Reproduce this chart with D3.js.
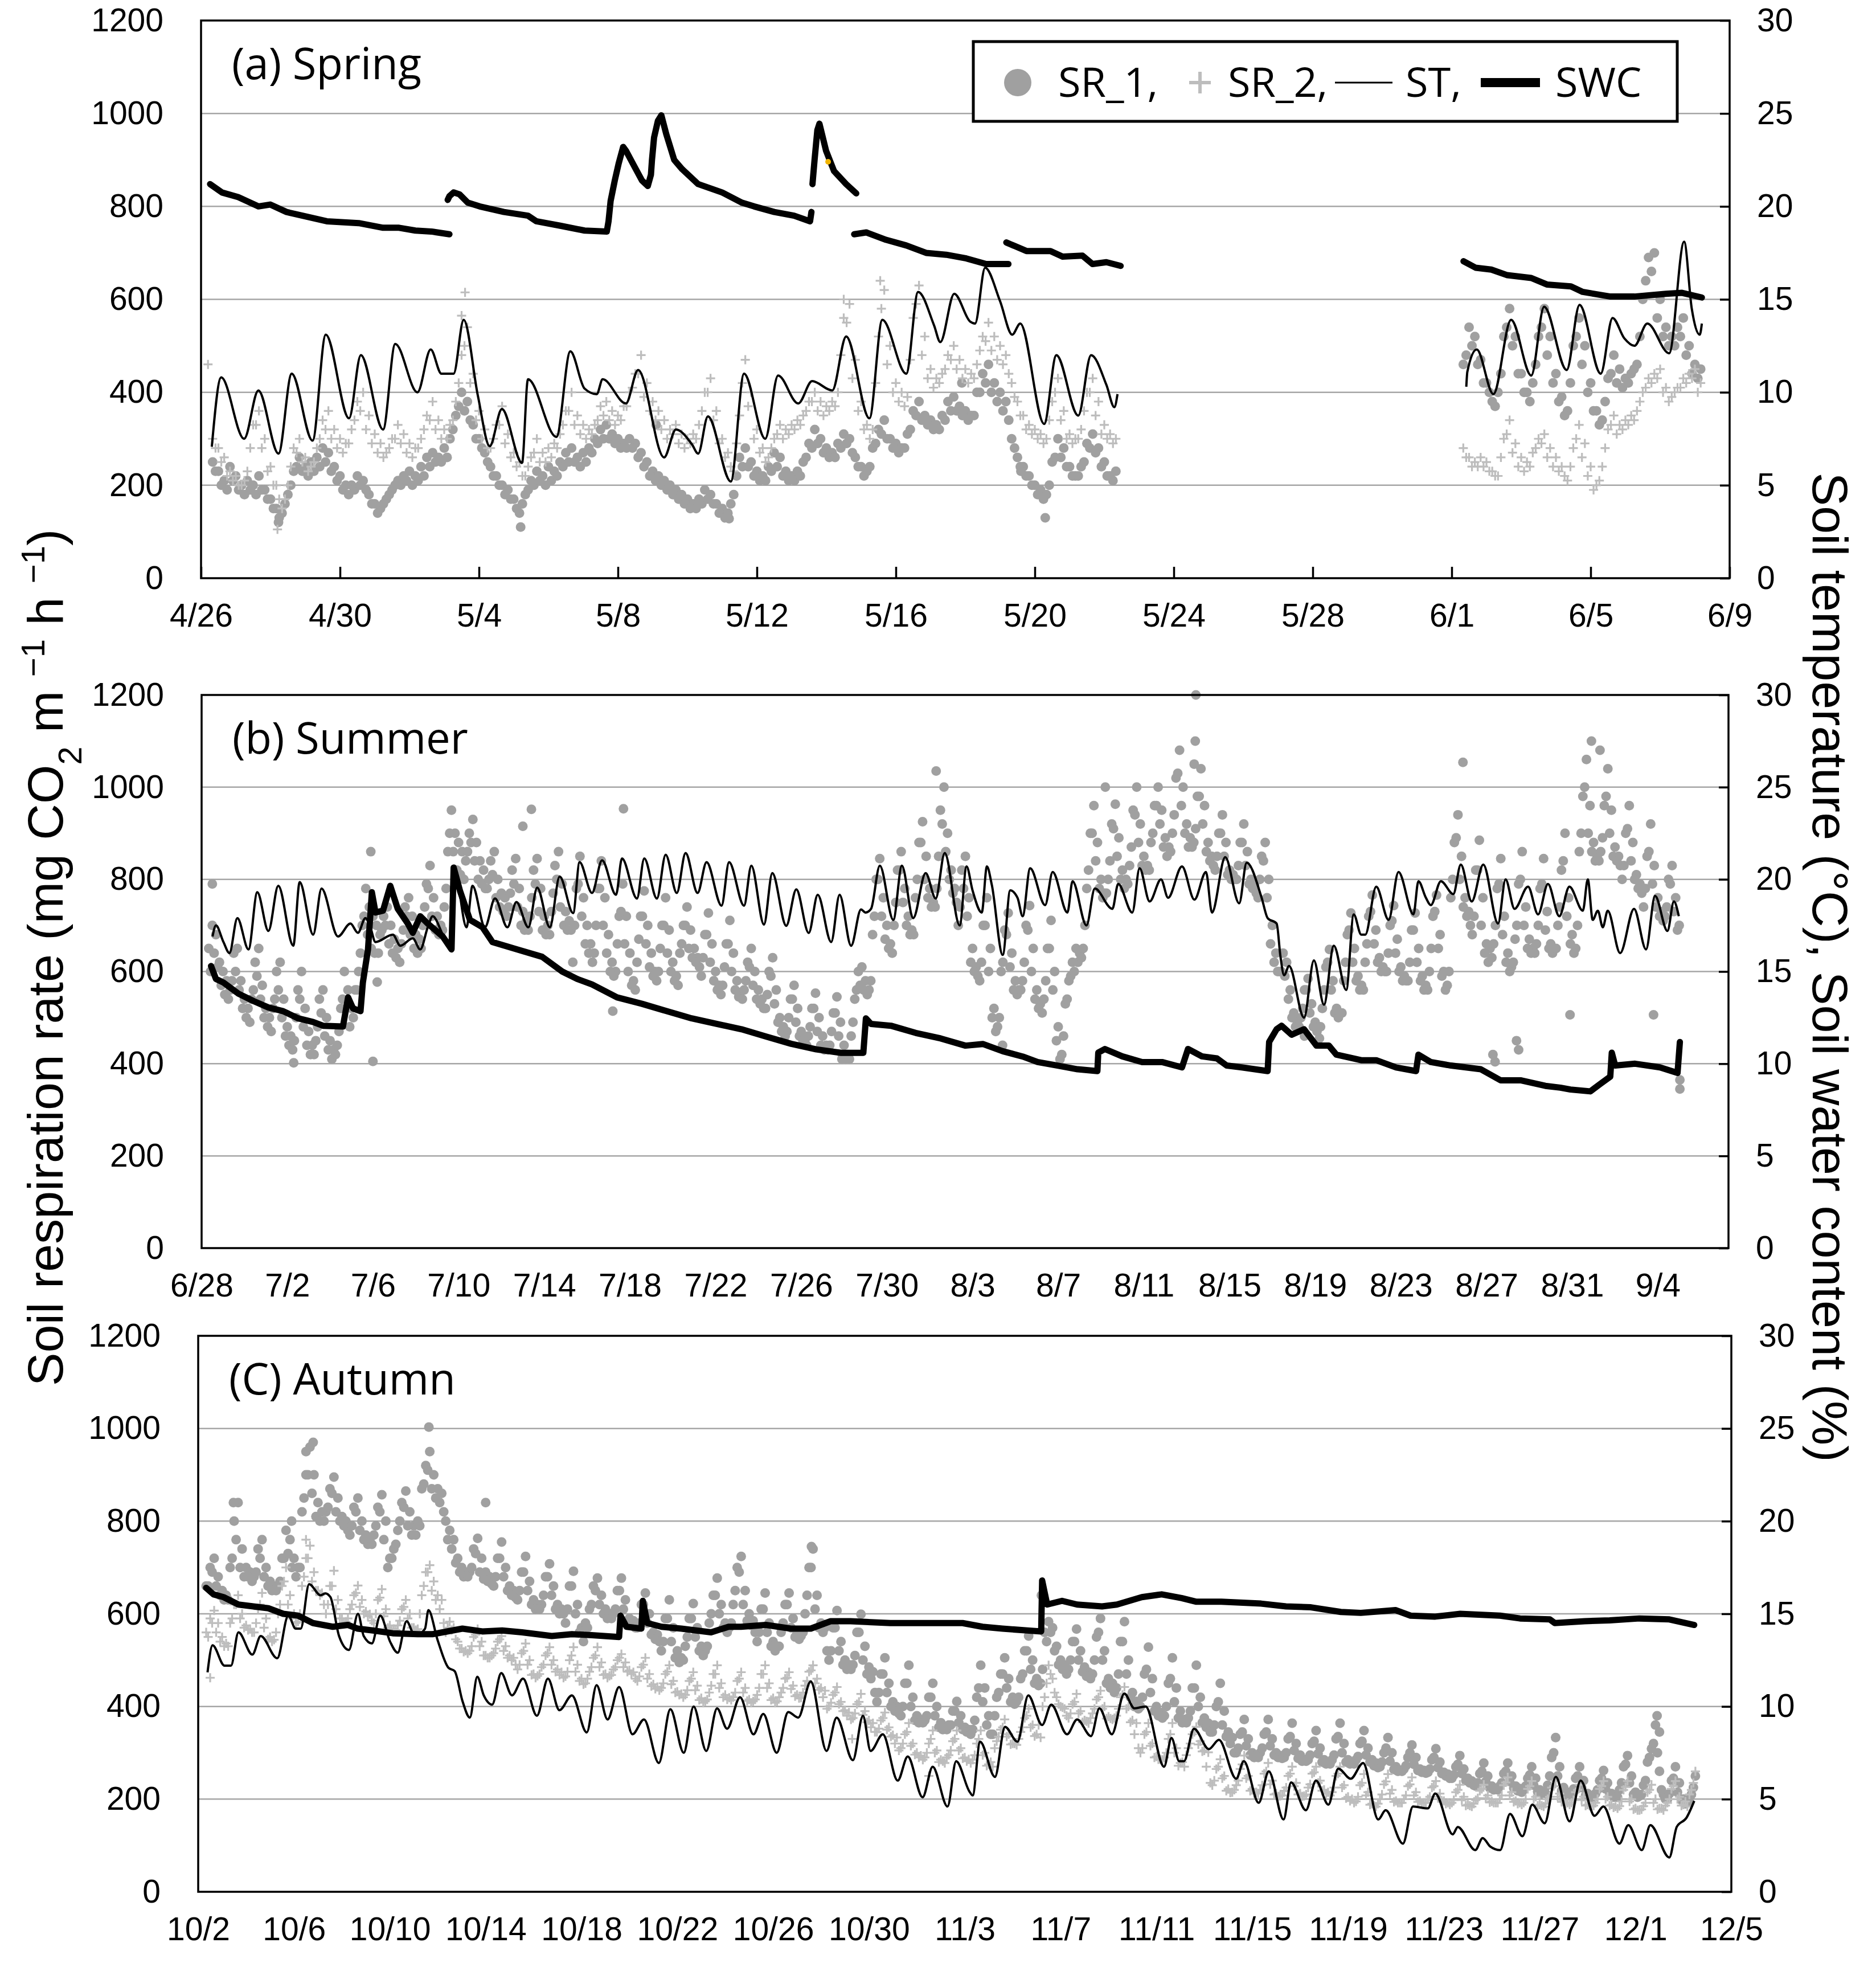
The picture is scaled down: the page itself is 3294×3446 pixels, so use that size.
<!DOCTYPE html>
<html>
<head>
<meta charset="utf-8">
<script src="https://cdn.jsdelivr.net/npm/d3@7"></script>
<style>
  body { margin: 0; background: #fff; }
</style>
</head>
<body>
<div id="chart"></div>
<script>
// ---------- tick labels ----------
const leftTicks = [0, 200, 400, 600, 800, 1000, 1200];
const rightTicks = [0, 5, 10, 15, 20, 25, 30];
const springTicks = ["4/26","4/30","5/4","5/8","5/12","5/16","5/20","5/24","5/28","6/1","6/5","6/9"];
const summerTicks = ["6/28","7/2","7/6","7/10","7/14","7/18","7/22","7/26","7/30","8/3","8/7","8/11","8/15","8/19","8/23","8/27","8/31","9/4"];
const autumnTicks = ["10/2","10/6","10/10","10/14","10/18","10/22","10/26","10/30","11/3","11/7","11/11","11/15","11/19","11/23","11/27","12/1","12/5"];

// soil respiration: readings every 4 h (x = days since panel start);
// the *Low arrays are the lower part of the scatter, read 2 h later
const srStep = 1 / 6;

// ---------- (a) spring ----------
const springSR1a = [
  250,230,210,240,220,200, 210,200,220,190,170,150, 140,180,230,260,240,250, 260,280,270,240,220,200,
  200,220,210,180,160,150, 170,190,210,220,230,220, 240,260,270,260,280,300, 350,400,380,330,300,270,
  240,220,200,190,170,140, 180,210,230,220,240,230, 250,270,280,260,270,280, 300,320,330,310,300,290,
  300,290,270,250,230,220, 210,200,190,180,170,160, 170,190,180,160,150,140, 180,260,280,250,230,220,
  240,270,260,230,220,230, 250,290,320,300,280,270, 290,310,300,260,240,230, 280,320,340,300,290,280,
  310,360,380,350,340,330, 350,380,390,370,360,350, 400,440,460,420,400,380, 300,260,240,220,200,190,
  180,250,300,280,240,220, 240,290,310,280,250,220, 230
];
const springSR1aLow = [
  230,200,190,210,190,180, 190,180,190,170,150,130, 160,200,240,230,220,230, 240,250,230,210,190,180,
  190,200,190,160,140,160, 180,200,200,210,200,210, 220,240,250,250,260,320, 370,360,340,300,280,250,
  220,200,180,170,150,160, 190,200,210,200,210,220, 240,250,250,240,250,270, 290,300,300,290,280,280,
  280,260,240,220,210,200, 190,180,170,160,150,150, 160,170,160,140,130,160, 220,240,240,220,210,210,
  230,240,220,210,210,220, 260,280,290,270,260,260, 280,290,270,240,220,240, 290,310,300,280,270,280,
  320,350,340,330,320,320, 340,360,360,350,340,350, 400,420,400,380,360,340, 280,240,220,200,180,170,
  200,260,260,240,220,220, 250,280,270,240,220,210
];
const springSR1b = [
  460,540,520,470,420,380, 400,520,580,520,440,400, 420,520,580,520,440,390, 360,500,560,500,420,360,
  340,430,480,450,430,440, 460,600,690,700,600,540, 520,540,560,500,460,450
];
const springSR1bLow = [
  480,500,460,420,400,370, 440,540,500,440,400,380, 460,540,480,420,380,350, 420,520,460,400,360,330,
  380,440,420,410,420,450, 520,640,660,560,520,500, 500,520,480,440,430
];
const springSR2a = [
  300,280,260,230,220,200, 230,330,360,300,240,200, 150,200,280,300,260,240, 280,340,360,320,300,290,
  320,380,400,350,310,290, 270,300,330,310,290,280, 300,350,380,340,320,330, 380,480,540,440,360,320,
  280,330,370,310,270,250, 220,260,300,270,280,290, 310,360,400,350,330,320, 330,370,380,360,350,370,
  400,440,480,420,380,360, 340,320,330,310,300,310, 330,400,430,360,300,270, 230,350,470,400,320,280,
  260,300,330,320,330,340, 350,380,400,380,370,380, 400,560,590,470,380,330, 320,520,620,500,420,400,
  390,560,630,520,450,430, 440,480,500,470,450,440, 460,520,550,520,500,480, 420,380,350,330,320,310,
  300,380,430,360,310,300, 320,400,430,380,330,310, 300
];
const springSR2aLow = [
  280,250,220,210,200,210, 280,330,280,230,200,170, 170,240,270,250,230,250, 300,320,300,280,270,290,
  340,360,320,290,270,260, 280,300,290,270,260,280, 320,340,320,300,300,340, 420,500,420,340,300,280,
  300,330,290,260,240,220, 240,270,250,250,260,280, 330,360,330,310,300,310, 340,350,340,330,340,370,
  410,440,390,360,340,320, 300,310,290,280,290,300, 360,400,340,290,260,240, 290,420,370,300,270,250,
  280,310,300,310,320,330, 360,380,360,350,360,370, 480,550,430,360,320,300, 420,580,460,400,380,370,
  470,590,480,430,410,420, 450,470,450,430,420,430, 490,510,490,470,460,440, 390,350,320,310,300,290,
  340,400,340,300,290,300, 360,400,350,310,300,290
];
const springSR2b = [
  280,260,250,260,250,230, 220,300,340,290,260,250, 270,300,310,280,260,240, 210,280,330,290,240,200,
  240,320,350,330,340,350, 360,400,430,440,450,410, 390,410,430,440,450,420
];
const springSR2bLow = [
  260,240,240,240,230,220, 260,310,270,240,230,240, 280,290,260,240,230,220, 240,300,260,220,190,210,
  280,330,310,320,330,340, 380,410,420,430,400,380, 400,410,420,430,400
];
const springSR1Out = [[2.23,120],[9.2,110],[15.2,128],[24.3,130],[23.6,230],[21.9,420],[13.1,330]];
const springSR2Out = [[0.2,460],[2.2,105],[7.6,615],[7.5,565],[19.55,640],[18.5,600]];

const springST1 = [
  [0.31,7.07],[0.58,10.8],[1.24,7.5],[1.65,10.1],[2.23,6.7],[2.61,11.0],[3.21,7.4],[3.59,13.1],[4.26,8.6],
  [4.6,12.0],[5.24,8.0],[5.59,12.6],[6.23,10.0],[6.61,12.3],[6.92,11.0],[7.27,11.0],[7.56,13.9],[7.97,9.8],
  [8.31,7.1],[8.66,9.1],[9.24,6.2],[9.41,10.7],[10.23,7.6],[10.63,12.2],[11.04,10.2],[11.39,9.9],[11.56,10.7],
  [12.23,9.4],[12.58,11.2],[13.33,6.5],[13.67,8.0],[14.13,7.2],[14.31,6.7],[14.59,8.7],[15.25,5.2],[15.63,11.0],
  [16.24,7.5],[16.61,10.9],[17.19,9.4],[17.59,10.6],[18.17,10.1],[18.57,13.0],[19.24,8.6],[19.61,13.9],[20.3,11.0],
  [20.64,15.4],[21.1,13.6],[21.28,12.7],[21.68,15.3],[22.14,13.8],[22.28,13.7],[22.57,16.7],[23.0,14.9],[23.35,13.1],
  [23.58,13.7],[24.27,8.3],[24.62,12.0],[25.25,8.75],[25.62,12.0],[26.06,10.4],[26.29,9.2],[26.38,9.9]
];
const springST2 = [
  [36.42,10.3],[36.45,11.1],[36.72,12.3],[37.2,9.9],[37.71,13.9],[38.29,10.9],[38.66,14.6],[39.31,11.2],
  [39.68,14.7],[40.29,11.0],[40.63,14.0],[40.97,12.9],[41.26,12.5],[41.63,13.7],[42.26,12.1],[42.69,18.1],
  [42.91,14.5],[43.14,13.1],[43.2,13.7]
];
const springSWC = [
  [[0.26,21.2],[0.6,20.75],[1.07,20.5],[1.65,20.0],[1.99,20.1],[2.46,19.7],[2.92,19.5],[3.62,19.2],[4.54,19.1],
   [5.24,18.85],[5.7,18.85],[6.17,18.7],[6.63,18.65],[7.15,18.5]],
  [[7.1,20.35],[7.15,20.55],[7.27,20.75],[7.44,20.65],[7.68,20.2],[8.02,20.0],[8.72,19.7],[9.41,19.5],[9.65,19.2],
   [10.34,18.96],[11.04,18.7],[11.68,18.65],[11.73,19.2],[11.79,20.3],[11.91,21.4],[12.02,22.3],[12.15,23.2],
   [12.23,23.0],[12.46,22.2],[12.69,21.4],[12.86,21.1],[12.95,21.7],[12.98,22.5],[13.04,23.7],[13.15,24.6],
   [13.25,24.9],[13.39,23.9],[13.62,22.5],[13.85,22.0],[14.31,21.2],[15.0,20.75],[15.57,20.2],[15.92,20.0],
   [16.5,19.7],[17.07,19.5],[17.53,19.2],[17.57,19.7]],
  [[17.6,21.2],[17.66,22.5],[17.74,24.1],[17.8,24.45],[17.99,23.0],[18.22,21.9],[18.57,21.2],[18.86,20.7]],
  [[18.8,18.5],[19.15,18.6],[19.72,18.2],[20.3,17.9],[20.87,17.5],[21.45,17.4],[22.03,17.2],[22.6,16.9],[23.24,16.9]],
  [[23.18,18.06],[23.76,17.6],[24.45,17.6],[24.8,17.3],[25.37,17.35],[25.66,16.9],[26.06,17.0],[26.47,16.8]],
  [[36.34,17.05],[36.69,16.7],[37.14,16.6],[37.6,16.3],[38.29,16.15],[38.74,15.8],[39.43,15.7],[39.77,15.4],
   [40.57,15.15],[41.26,15.15],[42.17,15.3],[42.63,15.35],[43.2,15.1]]
];
const springMarkedSWC = [[18.05,22.4]];

// ---------- (b) summer ----------
const summerSR1 = [
  650,700,680,620,600,580, 560,640,650,580,540,520, 540,620,650,570,520,500, 520,600,620,540,480,460,
  450,560,600,520,470,440, 450,540,560,500,450,430, 440,520,600,560,520,560, 600,700,780,740,720,700,
  680,720,740,700,670,650, 660,740,760,720,680,670, 700,790,830,760,720,700, 740,860,950,900,880,860,
  840,900,930,880,840,820, 780,840,860,800,770,760, 740,820,845,780,730,710, 720,820,845,780,720,700,
  730,830,860,790,730,710, 620,780,850,760,700,660, 640,780,840,760,680,620, 600,720,790,720,640,580,
  620,720,775,700,640,600, 600,700,760,690,620,590, 640,700,740,690,650,630, 590,680,727,660,600,570,
  570,660,711,640,580,555, 560,620,650,600,560,540, 520,600,630,560,500,480, 470,540,570,520,470,450,
  460,520,553,500,460,440, 440,510,545,490,440,420, 460,540,600,610,580,560, 680,800,845,760,700,660,
  700,820,860,780,720,690, 760,880,925,850,780,750, 780,950,1000,900,820,780, 700,820,850,760,650,610,
  580,700,760,650,520,480, 600,690,727,640,580,560, 580,700,743,650,560,530, 540,650,711,600,480,420,
  530,580,620,650,640,650, 780,900,960,880,800,770, 800,920,963,890,820,800, 830,950,1000,920,850,830,
  880,960,1000,950,890,870, 900,1020,1080,1000,920,890, 880,980,1040,960,880,850, 820,900,940,880,820,810,
  800,880,920,860,800,790, 760,850,880,800,700,640, 600,640,620,560,510,490, 500,560,585,530,490,480,
  520,610,648,580,520,510, 580,680,727,650,590,570, 620,720,766,690,630,610, 600,700,743,670,610,590,
  580,690,727,650,590,570, 600,720,766,680,600,570, 760,880,940,850,760,730, 680,820,885,760,660,650,
  660,780,845,720,640,610, 670,790,860,740,670,650, 660,780,845,730,660,650, 700,820,900,760,680,650,
  860,980,1060,960,880,850, 860,960,1040,950,870,850, 800,900,960,880,810,790, 740,850,920,830,760,730,
  720,800,830,760,700
];
const summerSR1Low = [
  600,640,610,570,550,540, 580,600,560,520,500,490, 560,590,540,500,480,470, 540,560,500,460,440,430,
  500,540,480,440,420,420, 480,510,460,430,410,420, 470,540,520,480,500,560, 640,720,680,650,640,640,
  690,700,660,640,630,620, 690,720,680,650,640,650, 740,780,720,690,680,690, 780,900,860,820,810,800,
  860,880,840,800,790,780, 800,810,760,740,730,720, 770,790,740,700,690,690, 760,790,730,690,680,680,
  770,800,740,700,690,690, 700,790,720,660,640,620, 700,780,700,640,600,590, 660,730,660,600,570,560,
  670,720,660,610,590,580, 650,700,640,600,580,570, 660,700,650,630,620,610, 630,680,620,580,560,550,
  610,660,600,560,545,540, 580,610,570,540,530,520, 550,590,530,490,470,460, 500,540,490,460,450,440,
  480,520,470,440,430,430, 470,510,460,420,410,410, 490,560,570,560,550,580, 720,800,720,670,650,640,
  750,820,750,700,680,680, 800,880,800,760,740,740, 850,920,860,800,770,750, 740,780,720,620,600,590,
  620,700,600,500,470,500, 620,680,610,560,550,560, 620,690,600,540,520,510, 580,650,560,450,410,460,
  540,590,600,620,630,700, 820,900,840,780,760,770, 840,910,850,800,780,790, 870,940,880,830,820,820,
  900,960,920,870,850,860, 940,1030,960,900,870,870, 910,980,920,860,840,830, 850,900,850,810,800,800,
  830,880,830,790,780,770, 800,840,760,660,620,600, 600,590,540,500,480,480, 520,560,510,480,470,480,
  560,620,560,510,500,510, 620,690,620,580,560,560, 660,730,660,620,600,600, 640,710,640,600,580,580,
  620,690,620,580,560,560, 650,730,650,590,560,600, 800,890,800,740,720,700, 720,820,700,640,620,630,
  700,790,680,620,600,620, 700,800,700,650,640,640, 700,790,690,650,640,650, 740,840,720,660,640,700,
  900,1000,900,860,840,840, 890,980,900,850,840,830, 830,910,840,800,780,770, 780,860,790,740,720,710,
  740,790,730,690
];
const summerSR1Out = [
  [0.5,790],[7.9,860],[8.2,577],[8.0,405],[4.3,402],[15.4,952],[19.7,953],[15.0,915],[34.3,1035],[19.2,514],
  [29.9,410],[46.43,1200],[46.4,1100],[46.35,1050],[42.2,1000],[58.9,1054],[65.3,1080],[64.9,1100],[60.4,404],
  [61.5,430],[63.9,506],[69.03,345],[69.03,365],[67.8,506],[52.2,455],[51.5,460],[37.4,440],[60.3,420],[61.4,450]
];
const summerST = [
  [0.51,16.9],[0.67,17.5],[1.02,16.6],[1.3,16.0],[1.67,17.9],[2.19,16.2],[2.6,19.3],[3.12,17.2],[3.58,19.65],
  [4.28,16.4],[4.58,19.85],[5.21,17.0],[5.6,19.5],[6.37,16.9],[6.95,17.6],[7.3,17.1],[7.65,17.9],[7.88,17.4],
  [8.12,16.6],[8.93,17.0],[9.28,16.4],[9.86,16.8],[10.21,16.2],[10.56,17.4],[10.79,18.0],[11.26,17.0],[11.6,16.2],
  [11.72,16.4],[11.84,20.3],[12.37,17.4],[12.65,19.65],[13.23,17.4],[13.7,18.96],[14.28,17.4],[14.7,18.77],
  [15.26,17.4],[15.67,19.55],[16.26,17.4],[16.72,20.15],[17.35,18.17],[17.65,20.93],[18.23,19.26],[18.7,21.03],
  [19.35,19.16],[19.63,21.13],[20.33,18.96],[20.67,21.13],[21.26,18.96],[21.67,21.33],[22.19,19.26],[22.6,21.43],
  [23.16,19.26],[23.58,20.93],[24.28,18.57],[24.63,20.93],[25.33,18.57],[25.67,20.74],[26.26,17.55],[26.65,20.34],
  [27.3,17.48],[27.77,19.46],[28.35,17.09],[28.77,19.16],[29.4,16.6],[29.79,19.16],[30.33,16.4],[30.79,18.37],
  [31.0,18.2],[31.26,18.4],[31.67,20.74],[32.3,17.8],[32.7,20.74],[33.23,17.9],[33.81,20.34],[34.28,18.96],
  [34.7,21.43],[35.4,17.5],[35.72,20.7],[36.0,19.4],[36.43,18.2],[36.67,20.7],[36.9,19.7],[37.41,15.9],
  [37.76,19.4],[38.1,19.0],[38.34,18.0],[38.69,20.6],[39.39,18.6],[39.74,20.4],[40.43,18.2],[40.67,19.9],
  [41.32,17.5],[41.71,19.5],[42.53,18.4],[42.8,19.75],[43.46,18.2],[43.8,20.6],[44.27,18.8],[44.8,20.0],
  [45.13,19.0],[45.78,20.7],[46.36,18.9],[46.9,20.4],[47.18,18.2],[47.8,21.2],[48.45,18.7],[48.8,20.9],
  [49.5,19.0],[49.78,17.9],[50.2,17.6],[50.38,15.8],[50.55,14.8],[50.78,15.3],[51.48,12.5],[51.94,15.6],
  [52.41,13.2],[52.87,16.4],[53.45,14.0],[53.8,18.1],[54.15,17.0],[54.34,17.0],[54.85,19.6],[55.43,17.8],
  [55.89,20.4],[56.59,18.1],[56.82,19.9],[57.17,19.0],[57.4,18.6],[57.87,19.9],[58.45,19.2],[58.8,20.8],
  [59.31,18.8],[59.85,20.8],[60.54,17.6],[60.89,20.0],[61.31,18.4],[61.94,19.6],[62.41,18.1],[62.87,19.75],
  [63.4,18.0],[63.87,19.6],[64.5,18.3],[64.73,20.0],[64.96,17.8],[65.2,18.3],[65.43,17.4],[65.66,18.3],
  [66.24,16.0],[66.89,18.4],[67.45,16.2],[67.87,19.1],[68.45,17.2],[68.75,18.8],[68.98,18.0]
];
const summerSWC = [[
  [0.44,15.3],[0.67,14.6],[1.02,14.4],[1.72,13.8],[2.42,13.4],[3.12,13.05],[3.81,12.85],[4.51,12.46],[5.21,12.26],
  [5.67,12.06],[6.6,12.02],[6.84,13.6],[7.07,13.0],[7.42,12.85],[7.53,14.4],[7.77,16.2],[7.95,19.3],[8.12,18.2],
  [8.47,18.3],[8.81,19.65],[9.16,18.4],[9.63,17.6],[9.86,17.1],[10.21,18.0],[10.56,17.6],[11.26,16.9],[11.67,16.2],
  [11.77,20.64],[12.07,19.36],[12.53,17.8],[13.12,17.4],[13.58,16.6],[14.74,16.2],[15.9,15.8],[16.84,15.0],
  [17.53,14.6],[18.23,14.3],[19.4,13.6],[20.56,13.25],[21.72,12.85],[22.88,12.46],[24.05,12.16],[25.21,11.87],
  [26.37,11.47],[27.53,11.08],[28.7,10.78],[29.86,10.59],[30.9,10.59],[31.02,12.46],[31.26,12.16],[32.19,12.06],
  [33.35,11.67],[34.51,11.37],[35.67,10.98],[36.48,11.07],[37.41,10.68],[38.34,10.39],[39.04,10.09],[39.97,9.9],
  [40.9,9.7],[41.83,9.6],[41.87,10.6],[42.18,10.8],[42.99,10.4],[43.92,10.09],[44.85,10.09],[45.78,9.8],
  [46.06,10.8],[46.71,10.4],[47.41,10.29],[47.87,9.9],[48.57,9.8],[49.78,9.6],[49.85,11.18],[50.2,11.87],
  [50.43,12.06],[50.9,11.57],[51.48,11.87],[52.06,10.98],[52.64,10.98],[52.99,10.49],[54.15,10.19],[54.85,10.19],
  [55.78,9.8],[56.71,9.6],[56.82,10.49],[57.4,10.09],[58.34,9.9],[59.73,9.7],[60.66,9.1],[61.59,9.1],[62.75,8.8],
  [63.45,8.7],[63.92,8.6],[64.85,8.5],[65.31,8.9],[65.78,9.3],[65.85,10.6],[66.01,9.9],[66.94,10.0],[68.1,9.8],
  [68.92,9.5],[69.03,11.18]
]];

// ---------- (c) autumn ----------
const autumnSR1 = [
  660,700,720,680,650,640, 700,800,840,740,700,690, 680,740,760,700,670,660, 660,720,780,760,720,700,
  820,900,960,900,840,820, 820,870,895,850,810,800, 770,830,850,800,770,760, 770,830,857,800,720,740,
  780,840,865,820,790,800, 870,920,950,900,870,860, 800,780,760,720,700,690, 690,740,763,720,690,680,
  660,720,755,700,660,650, 630,690,724,670,630,620, 620,680,708,660,620,610, 580,660,692,620,570,580,
  610,660,677,640,610,600, 600,650,677,630,590,585, 570,620,645,600,560,555, 520,590,630,570,520,505,
  530,590,622,570,530,520, 580,640,677,620,580,570, 620,700,724,650,600,585, 540,610,645,580,540,530,
  560,620,645,590,560,552, 600,700,740,640,580,570, 500,570,607,540,500,490, 490,560,599,530,485,475,
  410,470,505,450,410,400, 380,450,489,420,380,372, 370,420,450,400,365,356, 360,390,411,380,355,350,
  350,420,489,440,380,340, 420,470,505,460,420,411, 460,520,552,500,460,450, 560,583,570,530,500,489,
  480,540,567,520,485,474, 470,550,590,520,460,450, 440,540,583,500,430,411, 400,470,528,460,400,387,
  380,450,505,440,390,372, 375,440,489,420,375,364, 345,400,450,390,345,333, 300,340,372,330,300,294,
  300,340,372,330,300,294, 290,330,364,320,295,286, 285,320,348,310,285,278, 285,330,364,320,285,278,
  285,320,348,310,285,278, 270,300,333,300,270,262, 265,290,317,290,265,262, 258,285,309,280,258,254,
  245,270,294,265,245,239, 228,255,278,250,228,223, 228,255,278,250,228,223, 220,245,270,245,220,215,
  230,290,333,270,225,215, 215,245,270,240,212,207, 212,240,262,235,212,207, 220,270,294,250,215,207,
  230,280,309,360,260,210, 200,240,270,235,200,192, 210,250
];
const autumnSR1Low = [
  660,690,660,640,630,630, 720,760,700,680,680,670, 690,720,680,660,650,650, 670,720,730,700,680,700,
  850,900,860,810,800,800, 830,860,820,800,790,780, 790,820,780,760,750,750, 790,820,760,700,720,750,
  800,830,790,770,770,790, 880,910,870,850,840,820, 760,740,710,690,680,680, 700,730,690,675,670,665,
  680,720,680,650,640,635, 650,690,650,620,610,610, 640,680,640,610,600,600, 610,660,600,560,540,570,
  620,650,620,600,590,590, 610,650,610,585,575,570, 580,620,580,555,545,540, 540,590,540,505,495,500,
  550,590,550,520,510,530, 600,640,600,570,560,580, 650,690,620,585,575,560, 560,610,560,530,520,530,
  580,620,570,550,545,560, 640,700,610,570,560,520, 520,570,520,490,480,480, 510,560,500,470,460,430,
  430,470,430,400,390,385, 400,450,400,370,365,365, 380,420,380,355,350,350, 360,390,365,350,345,340,
  370,440,410,360,340,380, 430,470,440,410,405,420, 470,520,480,450,445,480, 540,560,520,490,480,470,
  500,540,500,475,465,460, 500,560,500,450,440,430, 470,540,470,420,400,395, 420,480,430,390,380,375,
  400,460,410,375,365,365, 390,440,400,365,355,345, 360,410,360,335,320,300, 310,345,315,295,290,290,
  310,345,315,295,290,288, 300,335,305,288,282,282, 295,325,298,280,276,276, 295,335,300,280,276,276,
  292,325,295,280,272,268, 280,310,282,264,260,260, 272,300,275,262,258,256, 265,290,268,255,250,245,
  252,275,255,240,235,230, 235,260,238,224,220,220, 235,260,238,224,218,215, 228,252,230,216,212,212,
  250,300,250,218,210,208, 222,250,225,208,204,204, 220,245,222,208,204,204, 235,275,235,210,204,210,
  240,290,320,300,220,200, 212,245,215,198,190,195, 225
];
const autumnSR2 = [
  560,590,607,580,550,536, 580,620,640,600,575,567, 560,610,645,590,550,544, 600,660,700,640,600,583,
  660,720,747,690,650,645, 600,660,693,630,590,583, 610,640,661,630,605,599, 580,630,653,610,575,567,
  575,610,630,600,570,567, 640,690,705,670,640,630, 560,583,570,540,525,520, 520,550,567,540,510,505,
  515,540,552,530,510,505, 480,515,536,500,470,466, 485,510,528,500,480,474, 465,500,528,490,460,450,
  475,505,528,495,470,466, 480,500,513,495,478,474, 455,485,505,470,448,442, 440,470,489,455,432,427,
  425,455,474,445,418,411, 430,470,489,450,425,419, 420,455,474,440,415,411, 425,470,489,450,418,411,
  430,460,474,445,425,419, 445,475,489,460,440,434, 400,425,442,410,392,387, 375,405,427,390,370,364,
  345,370,387,355,338,333, 310,340,364,320,300,294, 290,320,348,305,285,278, 295,325,348,310,290,286,
  285,320,348,300,275,270, 325,350,372,340,320,317, 345,375,395,360,340,333, 420,489,460,420,400,395,
  375,405,427,390,370,364, 385,415,434,400,378,372, 380,420,442,400,370,364, 300,340,364,320,292,286,
  290,330,364,310,278,270, 310,340,356,325,305,301, 230,265,286,250,222,215, 230,265,294,250,222,215,
  220,255,278,240,212,207, 218,250,270,235,212,207, 225,255,270,240,220,215, 215,250,270,230,205,200,
  195,230,254,215,190,184, 200,232,254,220,196,192, 200,228,247,215,196,192, 200,225,239,212,196,192,
  192,215,231,205,188,184, 198,218,231,208,195,192, 200,230,247,215,196,192, 192,222,239,205,188,184,
  200,225,239,212,196,192, 192,215,231,205,188,184, 192,222,239,205,188,184, 185,220,239,200,180,176,
  185,215,231,200,180,176, 192,222,239,205,188,184, 220,260
];
const autumnSR2Low = [
  550,580,560,540,530,530, 590,620,590,570,565,560, 580,620,570,545,540,560, 620,670,620,590,580,600,
  680,720,670,650,640,620, 620,660,610,590,580,590, 620,645,615,600,595,585, 600,635,595,570,565,565,
  585,615,590,570,565,600, 660,690,650,630,610,580, 570,565,545,525,518,515, 530,555,530,510,505,510,
  525,545,520,505,500,490, 490,520,490,468,462,470, 490,515,490,475,468,462, 475,510,475,455,448,460,
  485,510,485,468,462,468, 485,505,485,475,470,460, 465,490,460,444,438,435, 450,475,448,430,425,420,
  435,460,435,414,408,415, 445,470,440,420,415,414, 430,460,430,412,408,415, 440,470,440,414,408,420,
  440,462,438,422,418,430, 455,478,450,436,420,395, 408,430,405,390,380,372, 385,410,382,366,355,345,
  352,375,350,335,320,305, 320,345,315,296,290,285, 300,330,300,280,282,290, 305,330,305,288,282,278,
  295,330,295,272,280,310, 335,355,335,318,320,330, 355,380,355,336,360,400, 450,470,430,405,398,380,
  385,410,385,366,368,375, 395,420,395,374,374,375, 395,425,395,366,340,310, 310,345,315,290,286,285,
  300,340,300,272,280,295, 320,345,318,303,270,235, 240,270,245,218,214,220, 240,275,245,218,212,212,
  230,260,232,210,206,208, 225,255,228,210,206,210, 232,258,235,218,212,208, 225,255,225,202,196,192,
  205,235,208,188,186,190, 210,238,212,194,192,192, 208,232,208,194,192,192, 205,228,205,194,190,188,
  198,220,198,186,186,190, 202,222,202,193,192,192, 208,236,208,194,190,188, 200,228,200,186,186,190,
  205,228,205,194,190,188, 198,220,198,186,186,186, 200,228,200,186,182,180, 195,226,195,178,176,178,
  192,220,192,178,180,186, 200,228,200,186,195,210, 235
];
const autumnSR1Out = [[9.63,1003],[4.8,970],[4.5,950],[1.47,840],[12.0,840],[35.2,640],[60.9,380],[61.0,345],[3.9,800],[25.6,745]];
const autumnSR2Out = [[0.5,462],[4.5,760],[30.5,250],[27.3,330]];
const autumnST = [
  [0.39,11.84],[0.6,13.3],[1.1,12.2],[1.37,12.2],[1.68,14.0],[2.26,12.8],[2.61,13.8],[3.3,12.6],[3.76,14.9],
  [4.07,14.2],[4.28,14.2],[4.63,16.6],[5.11,16.0],[5.31,16.1],[5.52,15.9],[5.88,13.8],[6.29,13.05],[6.67,15.0],
  [6.91,13.8],[7.25,13.4],[7.6,14.9],[8.01,13.5],[8.33,12.9],[8.7,14.6],[9.05,13.8],[9.47,14.2],[9.61,15.2],
  [9.99,13.6],[10.44,12.1],[10.71,11.9],[11.03,10.3],[11.34,9.4],[11.65,11.6],[11.92,10.6],[12.27,10.1],
  [12.65,11.8],[13.1,10.6],[13.56,11.5],[14.14,9.5],[14.6,11.5],[15.08,9.8],[15.6,10.6],[16.22,8.6],[16.63,11.15],
  [17.09,9.3],[17.57,11.05],[18.13,8.5],[18.61,9.3],[19.23,6.95],[19.71,9.85],[20.27,7.5],[20.68,10.0],[21.21,7.6],
  [21.66,9.9],[22.08,8.8],[22.62,10.5],[23.18,8.5],[23.59,9.6],[24.15,7.5],[24.63,9.7],[25.05,9.4],[25.57,11.35],
  [26.23,7.6],[26.65,9.4],[27.33,7.1],[27.75,9.5],[28.07,7.6],[28.58,8.5],[29.2,6.0],[29.62,7.3],[30.24,5.1],
  [30.66,6.75],[31.28,4.6],[31.64,7.05],[32.2,5.4],[32.33,5.2],[32.64,8.1],[33.26,6.2],[33.68,8.9],[34.2,8.1],
  [34.65,10.6],[35.23,9.0],[35.61,10.1],[36.27,8.5],[36.69,9.3],[37.27,8.4],[37.62,9.9],[38.14,8.5],[38.66,10.7],
  [39.08,9.9],[39.55,10.0],[40.32,6.75],[40.63,8.3],[40.95,7.05],[41.15,7.05],[41.57,8.8],[42.19,7.7],[42.61,8.2],
  [43.33,6.1],[43.65,7.05],[44.27,4.8],[44.69,6.5],[45.31,3.9],[45.62,5.9],[46.24,4.4],[46.66,6.0],[47.18,4.7],
  [47.59,6.65],[48.11,6.1],[48.63,6.95],[49.26,3.9],[49.57,4.4],[50.29,2.6],[50.71,4.6],[51.33,4.5],[51.64,5.3],
  [52.37,3.1],[52.58,3.5],[53.31,2.25],[53.62,2.9],[53.93,2.45],[54.35,2.25],[54.76,4.2],[55.28,3.0],[55.69,4.7],
  [56.21,3.7],[56.67,6.2],[57.25,3.8],[57.71,6.0],[58.29,4.1],[58.66,4.6],[59.33,2.6],[59.7,3.6],[60.26,2.25],
  [60.62,3.6],[61.41,1.85],[61.72,3.5],[62.13,4.0],[62.45,4.9]
];
const autumnSWC = [[
  [0.33,16.4],[0.64,16.05],[1.06,15.9],[1.68,15.5],[2.3,15.4],[2.93,15.3],[3.55,15.0],[4.17,14.9],[4.79,14.5],
  [5.62,14.3],[6.25,14.4],[6.66,14.2],[7.29,14.1],[8.12,13.95],[9.16,13.9],[9.78,13.9],[10.2,14.0],[11.03,14.2],
  [11.86,14.05],[12.69,14.1],[13.52,14.0],[14.76,13.8],[15.6,13.9],[16.43,13.85],[17.57,13.75],[17.63,14.9],
  [17.88,14.3],[18.5,14.2],[18.56,15.7],[18.75,14.5],[19.34,14.3],[20.17,14.2],[21.41,14.0],[22.14,14.3],
  [22.66,14.3],[23.7,14.4],[24.74,14.2],[25.57,14.2],[26.4,14.6],[27.23,14.6],[28.89,14.5],[30.55,14.5],
  [31.91,14.5],[32.74,14.3],[33.57,14.2],[34.61,14.1],[35.19,14.05],[35.23,16.8],[35.44,15.5],[36.06,15.7],
  [36.69,15.5],[37.73,15.4],[38.35,15.5],[39.39,15.9],[40.22,16.05],[41.05,15.85],[41.67,15.65],[42.71,15.65],
  [44.37,15.55],[45.41,15.4],[46.45,15.35],[47.7,15.1],[48.53,15.05],[49.98,15.2],[50.61,14.9],[51.64,14.85],
  [52.68,15.0],[54.35,14.9],[55.18,14.75],[56.42,14.7],[56.63,14.5],[57.88,14.6],[58.92,14.65],[60.16,14.75],
  [61.41,14.7],[62.45,14.4]
]];

// ---------- layout ----------
const W = 3294, H = 3446;
const sr1Color = "#a0a0a0", sr2Color = "#bdbdbd", gridColor = "#a6a6a6";
const numFont = "'Liberation Sans', Arial, sans-serif";
const labelFont = "'Open Sans', 'Noto Sans', sans-serif";
const lowStart = 1 / 12;   // low readings sit 2 h after the main ones

const panels = [
  { title: "(a) Spring", left: 353, right: 3037, top: 36, bottom: 1015, span: 44,
    ticks: springTicks, tickMarks: true, legend: true,
    sr1: [[0.333, springSR1a], [0.333 + lowStart, springSR1aLow], [36.333, springSR1b], [36.333 + lowStart, springSR1bLow]],
    sr2: [[0.333, springSR2a], [0.333 + lowStart, springSR2aLow], [36.333, springSR2b], [36.333 + lowStart, springSR2bLow]],
    sr1Out: springSR1Out, sr2Out: springSR2Out, st: [springST1, springST2], swc: springSWC, marked: springMarkedSWC },
  { title: "(b) Summer", left: 354, right: 3035, top: 1220, bottom: 2191, span: 71.3,
    ticks: summerTicks, tickMarks: false,
    sr1: [[0.333, summerSR1], [0.333 + lowStart, summerSR1Low]], sr2: [], sr1Out: summerSR1Out, sr2Out: [],
    st: [summerST], swc: summerSWC, marked: [] },
  { title: "(C) Autumn", left: 348, right: 3040, top: 2345, bottom: 3321, span: 64,
    ticks: autumnTicks, tickMarks: false,
    sr1: [[0.333, autumnSR1], [0.333 + lowStart, autumnSR1Low]],
    sr2: [[0.333, autumnSR2], [0.333 + lowStart, autumnSR2Low]],
    sr1Out: autumnSR1Out, sr2Out: autumnSR2Out,
    st: [autumnST], swc: autumnSWC, marked: [] }
];

const svg = d3.select("#chart").append("svg")
  .attr("width", W).attr("height", H)
  .style("background", "#fff");

function toPoints(start, values) {
  return values.map((v, i) => [start + i * srStep, v]);
}

function drawPanel(p) {
  const x = d3.scaleLinear().domain([0, p.span]).range([p.left, p.right]);
  const yL = d3.scaleLinear().domain([0, 1200]).range([p.bottom, p.top]);
  const yR = d3.scaleLinear().domain([0, 30]).range([p.bottom, p.top]);
  const g = svg.append("g");

  // gridlines
  g.selectAll(".grid")
    .data(leftTicks.filter(v => v > 0 && v < 1200))
    .enter().append("line")
    .attr("x1", p.left).attr("x2", p.right)
    .attr("y1", d => yL(d)).attr("y2", d => yL(d))
    .attr("stroke", gridColor).attr("stroke-width", 2.5);

  // left axis
  g.append("g")
    .attr("transform", `translate(${p.left},0)`)
    .call(d3.axisLeft(yL).tickValues(leftTicks).tickFormat(d3.format("d")).tickSize(0).tickPadding(66))
    .call(a => a.select(".domain").remove())
    .attr("font-size", 57).attr("font-family", numFont);

  // right axis, ticks inside
  g.append("g")
    .attr("transform", `translate(${p.right},0)`)
    .call(d3.axisRight(yR).tickValues(rightTicks).tickSizeInner(-17).tickSizeOuter(0).tickPadding(48))
    .call(a => a.select(".domain").remove())
    .call(a => a.selectAll("line").attr("stroke", "#000").attr("stroke-width", 3.5))
    .attr("font-size", 57).attr("font-family", numFont);

  // bottom axis
  g.append("g")
    .attr("transform", `translate(0,${p.bottom})`)
    .call(d3.axisBottom(x)
      .tickValues(p.ticks.map((t, i) => i * 4))
      .tickFormat((d, i) => p.ticks[i])
      .tickSizeInner(p.tickMarks ? -20 : 0).tickSizeOuter(0).tickPadding(45))
    .call(a => a.select(".domain").remove())
    .call(a => a.selectAll("line").attr("stroke", "#000").attr("stroke-width", 3.5))
    .attr("font-size", 57).attr("font-family", numFont);

  // SR_1 circles
  const sr1 = p.sr1.flatMap(([s, v]) => toPoints(s, v)).concat(p.sr1Out);
  g.append("g").selectAll("circle").data(sr1).enter().append("circle")
    .attr("cx", d => x(d[0])).attr("cy", d => yL(d[1]))
    .attr("r", 8.5).attr("fill", sr1Color);

  // SR_2 crosses
  const sr2 = p.sr2.flatMap(([s, v]) => toPoints(s, v)).concat(p.sr2Out);
  g.append("g").selectAll("path").data(sr2).enter().append("path")
    .attr("transform", d => `translate(${x(d[0])},${yL(d[1])})`)
    .attr("d", "M-8,0H8M0,-8V8")
    .attr("stroke", sr2Color).attr("stroke-width", 3.2).attr("fill", "none");

  const line = d3.line().x(d => x(d[0])).y(d => yR(d[1]));
  const smooth = d3.line().curve(d3.curveMonotoneX).x(d => x(d[0])).y(d => yR(d[1]));

  // soil temperature
  g.append("g").selectAll("path").data(p.st).enter().append("path")
    .attr("d", smooth).attr("fill", "none")
    .attr("stroke", "#000").attr("stroke-width", 4).attr("stroke-linejoin", "round");

  // soil water content
  g.append("g").selectAll("path").data(p.swc).enter().append("path")
    .attr("d", line).attr("fill", "none")
    .attr("stroke", "#000").attr("stroke-width", 11)
    .attr("stroke-linejoin", "round").attr("stroke-linecap", "round");

  g.selectAll(".marked").data(p.marked).enter().append("circle")
    .attr("cx", d => x(d[0])).attr("cy", d => yR(d[1]))
    .attr("r", 5).attr("fill", "#f0b400");

  // frame
  g.append("rect")
    .attr("x", p.left).attr("y", p.top)
    .attr("width", p.right - p.left).attr("height", p.bottom - p.top)
    .attr("fill", "none").attr("stroke", "#000").attr("stroke-width", 3.5);

  // panel title
  g.append("text")
    .attr("x", p.left + 54).attr("y", p.top + 103)
    .attr("font-family", labelFont).attr("font-size", 76)
    .text(p.title);

  if (p.legend) drawLegend(g);
}

function drawLegend(g) {
  const lg = g.append("g").attr("font-family", labelFont).attr("font-size", 72);
  lg.append("rect")
    .attr("x", 1709).attr("y", 73).attr("width", 1236).attr("height", 140)
    .attr("fill", "#fff").attr("stroke", "#000").attr("stroke-width", 5);
  const cy = 145, base = 170;
  lg.append("circle").attr("cx", 1787).attr("cy", cy).attr("r", 24).attr("fill", sr1Color);
  lg.append("text").attr("x", 1858).attr("y", base).text("SR_1,");
  lg.append("path").attr("d", `M2088,${cy}H2126M2107,${cy - 19}V${cy + 19}`)
    .attr("stroke", sr2Color).attr("stroke-width", 6);
  lg.append("text").attr("x", 2156).attr("y", base).text("SR_2,");
  lg.append("line").attr("x1", 2344).attr("x2", 2445).attr("y1", cy).attr("y2", cy)
    .attr("stroke", "#000").attr("stroke-width", 3);
  lg.append("text").attr("x", 2468).attr("y", base).text("ST,");
  lg.append("line").attr("x1", 2600).attr("x2", 2704).attr("y1", cy).attr("y2", cy)
    .attr("stroke", "#000").attr("stroke-width", 16);
  lg.append("text").attr("x", 2731).attr("y", base).text("SWC");
}

panels.forEach(drawPanel);

// axis titles
const leftTitle = svg.append("text")
  .attr("transform", "translate(110,1681) rotate(-90)")
  .attr("text-anchor", "middle")
  .attr("font-family", numFont).attr("font-size", 88);
leftTitle.append("tspan").text("Soil respiration rate (mg CO");
leftTitle.append("tspan").attr("baseline-shift", "sub").attr("font-size", 58).text("2");
leftTitle.append("tspan").text(" m ");
leftTitle.append("tspan").attr("baseline-shift", "super").attr("font-size", 58).text("\u22121");
leftTitle.append("tspan").text(" h ");
leftTitle.append("tspan").attr("baseline-shift", "super").attr("font-size", 58).text("\u22121");
leftTitle.append("tspan").text(")");

svg.append("text")
  .attr("transform", "translate(3183,1698) rotate(90)")
  .attr("text-anchor", "middle")
  .attr("font-family", numFont).attr("font-size", 88)
  .text("Soil temperature (\u00b0C), Soil water content (%)");
</script>
</body>
</html>
